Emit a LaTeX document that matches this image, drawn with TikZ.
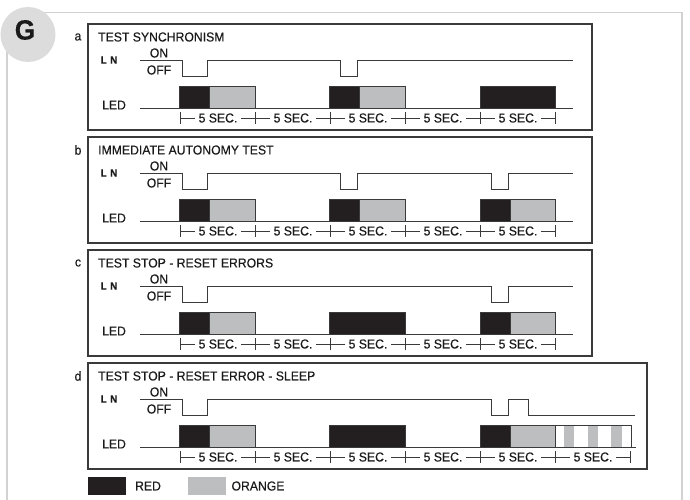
\documentclass[tikz,border=0pt]{standalone}
\usepackage{fontspec}
\setmainfont{Liberation Sans}[FakeStretch=0.94,FakeBold=0.35]
\definecolor{redc}{HTML}{231F20}
\definecolor{orc}{HTML}{BCBEC0}
\definecolor{framec}{HTML}{D2D2D2}
\definecolor{circc}{HTML}{DCDCDC}
\definecolor{linec}{HTML}{3A3A3A}
\definecolor{txt}{HTML}{1A1A1A}
\newcommand{\panelcommon}[4]{%
  \draw[panelbox] (88,0) rectangle (#4,106);
  \node (#1let) at (78,13) {#2};
  \node[anchor=west] (#1title) at (98,13) {#3};
  \node (#1ln) at (109,36) {\fontsize{10.5}{12}\selectfont\bfseries L\,\,N};
  \node (#1on) at (159,29) {ON};
  \node (#1off) at (159,46) {OFF};
  \node (#1led) at (114,81) {LED};
}
\newcommand{\redb}[2]{\draw[sig,fill=redc] (#1,62) rectangle (#2,84);}
\newcommand{\orb}[2]{\draw[sig,fill=orc] (#1,62) rectangle (#2,84);}
\newcommand{\rulerline}[2]{%
  \draw[sig] (180,94) -- ({180+75*#2},94);
  \foreach \k in {0,...,#2}{\draw[sig] ({180+75*\k},88) -- ({180+75*\k},100);}
  \pgfmathtruncatemacro{\nm}{#2-1}
  \foreach \k in {0,...,\nm}{\node[fill=white,inner xsep=3.5pt,inner ysep=1pt] (#1r\k) at ({218+75*\k},94) {5 SEC.};}
}
\begin{document}
\begin{tikzpicture}[x=1pt,y=-1pt,
  every node/.style={text=txt,font=\fontsize{13}{15}\selectfont,inner sep=0pt},
  panelbox/.style={draw=linec,line width=1.3pt},
  sig/.style={draw=linec,line width=0.9pt},
  framel/.style={draw=framec,line width=1.4pt}]
\useasboundingbox (0,0) rectangle (690,500);
% outer frame and G badge
\draw[framel] (7,50) -- (7,500);
\draw[framel] (28,12.7) -- (682,12.7) -- (682,500);
\node[circle,fill=circc,minimum size=55pt] (gcirc) at (28,34.5) {};
\node (gtxt) at (25,30) {\fontsize{28}{30}\selectfont\bfseries G};

% ---------- panel a ----------
\begin{scope}[yshift=-24pt]
\panelcommon{a}{a}{TEST SYNCHRONISM}{592}
\draw[sig] (140,36) -- (182,36) -- (182,52) -- (207,52) -- (207,36) -- (340,36) -- (340,52) -- (357,52) -- (357,36) -- (573,36);
\draw[sig] (140,84) -- (573,84);
\redb{179}{209}\orb{209}{255}
\redb{329}{359}\orb{359}{405}
\redb{480}{555}
\rulerline{a}{5}
\end{scope}

% ---------- panel b ----------
\begin{scope}[yshift=-137pt]
\panelcommon{b}{b}{IMMEDIATE AUTONOMY TEST}{592}
\draw[sig] (140,36) -- (182,36) -- (182,52) -- (207,52) -- (207,36) -- (340,36) -- (340,52) -- (357,52) -- (357,36) -- (491,36) -- (491,52) -- (508,52) -- (508,36) -- (573,36);
\draw[sig] (140,84) -- (573,84);
\redb{179}{209}\orb{209}{255}
\redb{329}{359}\orb{359}{405}
\redb{480}{510}\orb{510}{555}
\rulerline{b}{5}
\end{scope}

% ---------- panel c ----------
\begin{scope}[yshift=-250pt]
\panelcommon{c}{c}{TEST STOP - RESET ERRORS}{592}
\draw[sig] (140,36) -- (182,36) -- (182,52) -- (207,52) -- (207,36) -- (491,36) -- (491,52) -- (508,52) -- (508,36) -- (573,36);
\draw[sig] (140,84) -- (573,84);
\redb{179}{209}\orb{209}{255}
\redb{329}{405}
\redb{480}{510}\orb{510}{555}
\rulerline{c}{5}
\end{scope}

% ---------- panel d ----------
\begin{scope}[yshift=-363pt]
\panelcommon{d}{d}{TEST STOP - RESET ERROR - SLEEP}{647}
\draw[sig] (140,36) -- (182,36) -- (182,52) -- (207,52) -- (207,36) -- (491,36) -- (491,52) -- (508,52) -- (508,36) -- (528,36) -- (528,52) -- (635,52);
\draw[sig] (140,84) -- (636,84);
\redb{179}{209}\orb{209}{255}
\redb{329}{405}
\redb{480}{510}\orb{510}{555}
\fill[orc] (564,62) rectangle (574,84);
\fill[orc] (587.5,62) rectangle (597.5,84);
\fill[orc] (610.5,62) rectangle (622,84);
\draw[sig] (555,84) -- (555,62) -- (631,62) -- (631,84);
\rulerline{d}{6}
\end{scope}

% ---------- legend ----------
\fill[redc] (88,477) rectangle (126,495);
\node (lred) at (148,486) {RED};
\fill[orc] (188,477) rectangle (226,495);
\node (lor) at (258,486) {ORANGE};
\end{tikzpicture}
\end{document}
